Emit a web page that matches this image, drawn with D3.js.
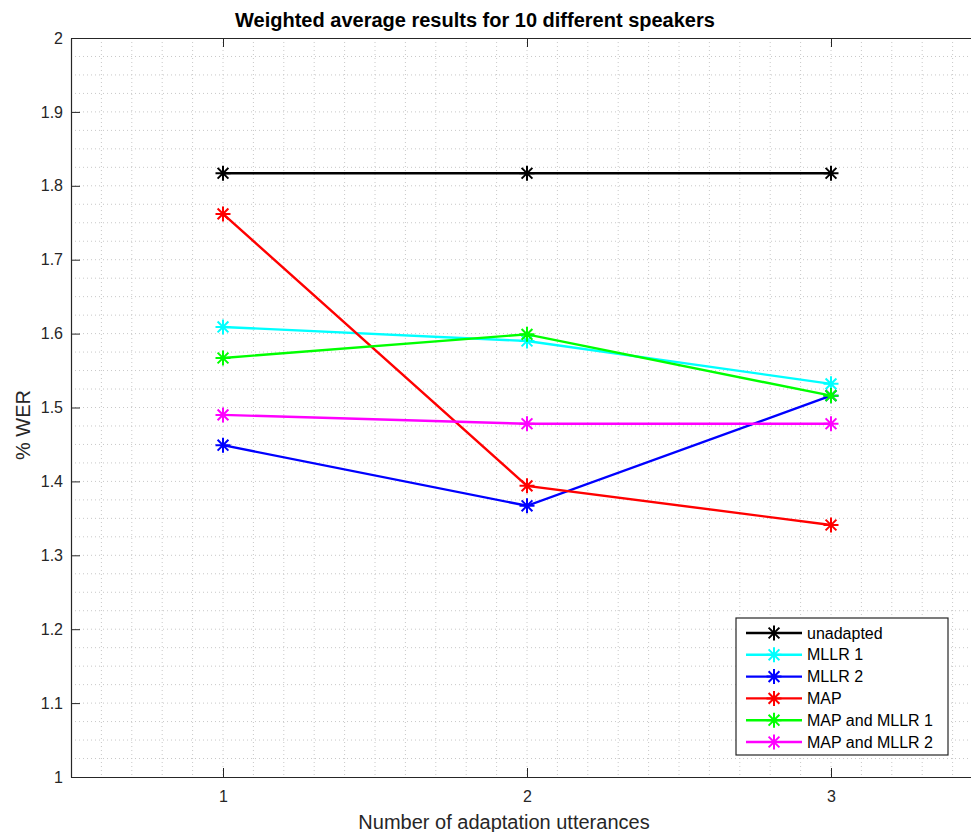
<!DOCTYPE html>
<html>
<head>
<meta charset="utf-8">
<script src="https://cdn.jsdelivr.net/npm/d3@7"></script>
<style>
  body { margin: 0; background: #fff; }
  text { font-family: "Liberation Sans", Arial, sans-serif; }
</style>
</head>
<body>
<div class="chart"></div>
<script>
var utterances = [1, 2, 3];
var seriesNames = ["unadapted", "MLLR 1", "MLLR 2", "MAP", "MAP and MLLR 1", "MAP and MLLR 2"];
var seriesColors = ["#000000", "#00ffff", "#0000ff", "#ff0000", "#00ff00", "#ff00ff"];
var unadapted = [1.817, 1.817, 1.817];
var mllr1 = [1.609, 1.590, 1.532];
var mllr2 = [1.449, 1.367, 1.516];
var map = [1.762, 1.394, 1.341];
var mapMllr1 = [1.567, 1.599, 1.516];
var mapMllr2 = [1.490, 1.478, 1.478];
var yTicks = [1, 1.1, 1.2, 1.3, 1.4, 1.5, 1.6, 1.7, 1.8, 1.9, 2];
var xTicks = [1, 2, 3];

var allSeries = [unadapted, mllr1, mllr2, map, mapMllr1, mapMllr2];

var w = 971,
    h = 832;

var plotLeft = 71, plotRight = 983, plotTop = 38, plotBottom = 777;

var svg = d3.select(".chart")
    .append("svg")
    .attr("width", w)
    .attr("height", h);

var x = d3.scaleLinear().domain([0.5, 3.5]).range([plotLeft, plotRight]);
var y = d3.scaleLinear().domain([1, 2]).range([plotBottom, plotTop]);

// minor grid
var g = svg.append("g");
g.selectAll(".vgrid")
    .data(d3.range(6, 35).map(function (d) { return d / 10; }))
    .enter().append("line")
    .attr("x1", function (d) { return x(d); })
    .attr("x2", function (d) { return x(d); })
    .attr("y1", plotTop).attr("y2", plotBottom)
    .attr("stroke", "#c8c8c8")
    .attr("stroke-width", 1)
    .attr("stroke-dasharray", "1,3");
g.selectAll(".hgrid")
    .data(d3.range(1, 40).map(function (d) { return 1 + d / 40; }))
    .enter().append("line")
    .attr("x1", plotLeft).attr("x2", plotRight)
    .attr("y1", function (d) { return y(d); })
    .attr("y2", function (d) { return y(d); })
    .attr("stroke", "#c8c8c8")
    .attr("stroke-width", 1)
    .attr("stroke-dasharray", "1,3");

// axes
var xAxis = d3.axisBottom(x).tickValues(xTicks).tickSizeInner(-9).tickSizeOuter(0).tickPadding(14)
    .tickFormat(d3.format("d"));
var xAxisTop = d3.axisTop(x).tickValues(xTicks).tickSizeInner(-9).tickSizeOuter(0).tickFormat("");
var yAxis = d3.axisLeft(y).tickValues(yTicks).tickSizeInner(-9).tickSizeOuter(0).tickPadding(8)
    .tickFormat(function (d) { return String(+d.toFixed(1)); });

var ax = svg.append("g").attr("transform", "translate(0," + plotBottom + ")").call(xAxis);
var axt = svg.append("g").attr("transform", "translate(0," + plotTop + ")").call(xAxisTop);
var ay = svg.append("g").attr("transform", "translate(" + plotLeft + ",0)").call(yAxis);

[ax, axt, ay].forEach(function (a) {
    a.select(".domain").attr("stroke", "#262626").attr("stroke-width", 1.2);
    a.selectAll(".tick line").attr("stroke", "#262626");
    a.selectAll("text").attr("fill", "#262626").style("font-size", "16px")
        .style("font-family", "'Liberation Sans', Arial, sans-serif");
});

// lines
var line = d3.line()
    .x(function (d, i) { return x(utterances[i]); })
    .y(function (d) { return y(d); });

function star(sel, r) {
    var d = r * 0.72;
    sel.append("path")
        .attr("d", "M0," + (-r) + "V" + r + "M" + (-r) + ",0H" + r +
            "M" + (-d) + "," + (-d) + "L" + d + "," + d +
            "M" + (-d) + "," + d + "L" + d + "," + (-d))
        .attr("fill", "none")
        .attr("stroke-width", 2);
}

allSeries.forEach(function (s, k) {
    svg.append("path")
        .datum(s)
        .attr("d", line)
        .attr("fill", "none")
        .attr("stroke", seriesColors[k])
        .attr("stroke-width", 2.4);
    svg.selectAll(".m" + k)
        .data(s)
        .enter().append("g")
        .attr("class", "m" + k)
        .attr("transform", function (d, i) { return "translate(" + x(utterances[i]) + "," + y(d) + ")"; })
        .attr("stroke", seriesColors[k])
        .call(star, 7.5);
});

// labels
svg.append("text")
    .attr("x", 475).attr("y", 27)
    .attr("text-anchor", "middle")
    .style("font-size", "20px")
    .style("font-weight", "bold")
    .attr("fill", "#000")
    .text("Weighted average results for 10 different speakers");

svg.append("text")
    .attr("x", 504).attr("y", 829)
    .attr("text-anchor", "middle")
    .style("font-size", "20px")
    .attr("fill", "#262626")
    .text("Number of adaptation utterances");

svg.append("text")
    .attr("transform", "translate(30,425) rotate(-90)")
    .attr("text-anchor", "middle")
    .style("font-size", "20px")
    .attr("fill", "#262626")
    .text("% WER");

// legend
var lg = svg.append("g").attr("transform", "translate(736,618)");
lg.append("rect")
    .attr("width", 212).attr("height", 137)
    .attr("fill", "#fff")
    .attr("stroke", "#262626")
    .attr("stroke-width", 1.2);

seriesNames.forEach(function (name, k) {
    var row = lg.append("g").attr("transform", "translate(0," + (15 + k * 21.8) + ")");
    row.append("line")
        .attr("x1", 10).attr("x2", 66)
        .attr("stroke", seriesColors[k])
        .attr("stroke-width", 2.4);
    row.append("g")
        .attr("transform", "translate(38,0)")
        .attr("stroke", seriesColors[k])
        .call(star, 7.5);
    row.append("text")
        .attr("x", 71).attr("y", 5.5)
        .style("font-size", "16px")
        .attr("fill", "#000")
        .text(name);
});
</script>
</body>
</html>
